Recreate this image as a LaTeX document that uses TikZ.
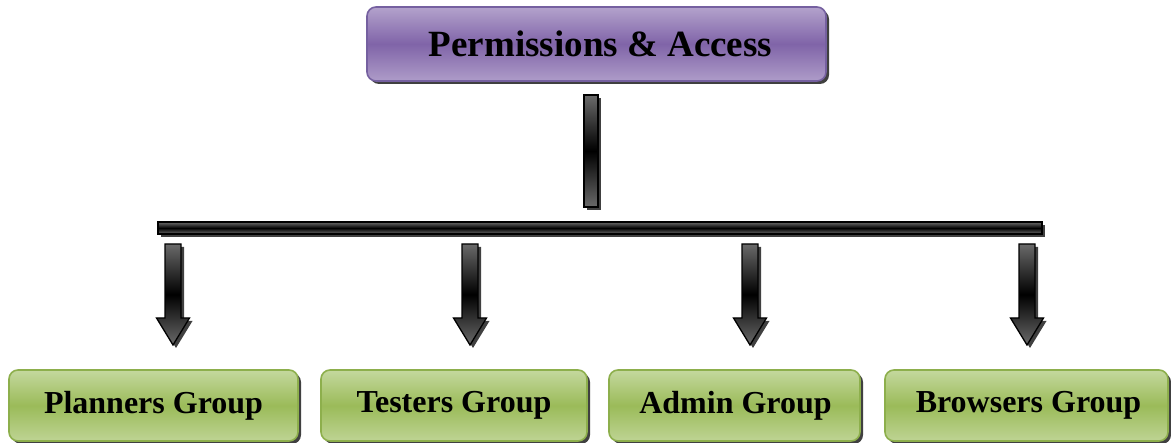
\documentclass[tikz,border=0pt]{standalone}
\usepackage{fontspec}
\setmainfont{Liberation Serif}
\usetikzlibrary{shadows}
\definecolor{purplelight}{HTML}{B3A2CC}
\definecolor{purpledark}{HTML}{8064A8}
\definecolor{purpleborder}{HTML}{7560A0}
\definecolor{greenlight}{HTML}{C4D89E}
\definecolor{greendark}{HTML}{9BBB59}
\definecolor{greenborder}{HTML}{8DAF4C}
\definecolor{bargrey}{HTML}{6A6A6A}
\begin{document}
\begin{tikzpicture}[x=1pt,y=-1pt]
\useasboundingbox (0,0) rectangle (1171,443);
\tikzset{
  boxshadow/.style={drop shadow={shadow xshift=3pt,shadow yshift=-3pt,fill=black!75,opacity=1}},
  topbox/.style={rounded corners=9pt, draw=purpleborder, line width=1.6pt,
    top color=purplelight, bottom color=purplelight!90!purpledark, middle color=purpledark,
    minimum width=459pt, minimum height=74pt, inner sep=0pt, boxshadow,
    font=\fontsize{37}{40}\selectfont\bfseries},
  grbox/.style={rounded corners=9pt, draw=greenborder, line width=1.6pt,
    top color=greenlight, bottom color=greenlight!85!greendark, middle color=greendark,
    minimum height=71pt, inner sep=0pt, boxshadow,
    font=\fontsize{32}{35}\selectfont\bfseries},
  barshadow/.style={fill=black!75, draw=none},
  barbody/.style={draw=black, line width=1.3pt, top color=bargrey, bottom color=bargrey, middle color=black},
  darrow/.pic={
    \fill[barshadow] (-8+3,3) -- (8+3,3) -- (8+3,74+3) -- (16.5+3,74+3) -- (0+3,101+3) -- (-16.5+3,74+3) -- (-8+3,74+3) -- cycle;
    \shade[barbody] (-8,0) -- (8,0) -- (8,74) -- (16.5,74) -- (0,101) -- (-16.5,74) -- (-8,74) -- cycle;
  }
}
% top node
\node[topbox] (top) at (596.5,44) {\hspace{8pt}Permissions \& Access};
% group nodes
\node[grbox, minimum width=289pt] (g1) at (153.5,405.5) {Planners Group};
\node[grbox, minimum width=266pt] (g2) at (454,405.5) {Testers Group};
\node[grbox, minimum width=251pt] (g3) at (734.5,405.5) {\hspace{2pt}Admin Group};
\node[grbox, minimum width=283pt] (g4) at (1026.5,405.5) {\hspace{4pt}Browsers Group};
% vertical bar
\coordinate (vb1) at (584,95);
\coordinate (vb2) at (598,207);
\fill[barshadow] ([shift={(3,3)}]vb1) rectangle ([shift={(3,3)}]vb2);
\shade[barbody] (vb1) rectangle (vb2);
% horizontal bar
\coordinate (hb1) at (158,222);
\coordinate (hb2) at (1042,234);
\fill[barshadow] ([shift={(3,3)}]hb1) rectangle ([shift={(3,3)}]hb2);
\shade[barbody] (hb1) rectangle (hb2);
% arrows
\coordinate (a1) at (173,244);
\coordinate (a2) at (470,244);
\coordinate (a3) at (750,244);
\coordinate (a4) at (1027,244);
\pic at (a1) {darrow};
\pic at (a2) {darrow};
\pic at (a3) {darrow};
\pic at (a4) {darrow};
\end{tikzpicture}
\end{document}
